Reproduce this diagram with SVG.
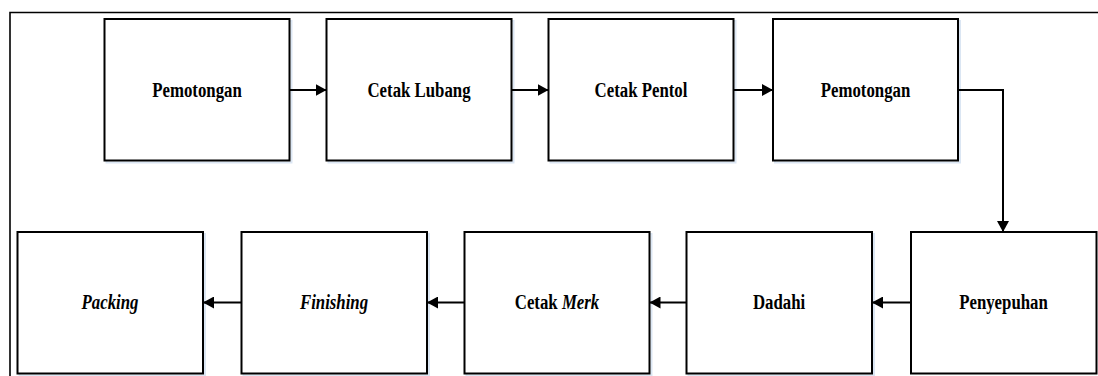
<svg xmlns="http://www.w3.org/2000/svg" width="1098" height="376" viewBox="0 0 1098 376">
  <style>
    .box { fill: #ffffff; stroke: #000000; stroke-width: 2; }
    .shadow { fill: none; stroke: #dbe6f3; stroke-width: 2; }
    .frame { fill: none; stroke: #000000; stroke-width: 1.6; }
    .conn { fill: none; stroke: #000000; stroke-width: 2; marker-end: url(#arrow); }
    .label { font-family: 'Liberation Serif', 'Times New Roman', serif; font-size: 21px; font-weight: bold; text-anchor: middle; fill: #000000; }
    .it { font-style: italic; }
  </style>
  <defs>
    <marker id="arrow" markerUnits="userSpaceOnUse" markerWidth="11" markerHeight="12" refX="11" refY="6" orient="auto">
      <path d="M0,0 L11,6 L0,12 Z" fill="#000000"/>
    </marker>
  </defs>
  <rect width="1098" height="376" fill="#ffffff"/>
  <!-- outer frame (open to the right and bottom) -->
  <path class="frame" d="M10,376 V12.5 H1098"/>

  <g id="n1"><rect class="shadow" x="106.5" y="21" width="185" height="141.5"/><rect class="box" x="104.5" y="19" width="185" height="141.5"/><text class="label" transform="translate(197 97) scale(0.8 1)">Pemotongan</text></g>
  <g id="n2"><rect class="shadow" x="328.5" y="21" width="185" height="141.5"/><rect class="box" x="326.5" y="19" width="185" height="141.5"/><text class="label" transform="translate(419 97) scale(0.8 1)">Cetak Lubang</text></g>
  <g id="n3"><rect class="shadow" x="550.5" y="21" width="185" height="141.5"/><rect class="box" x="548.5" y="19" width="185" height="141.5"/><text class="label" transform="translate(641 97) scale(0.8 1)">Cetak Pentol</text></g>
  <g id="n4"><rect class="shadow" x="775" y="21" width="185" height="141.5"/><rect class="box" x="773" y="19" width="185" height="141.5"/><text class="label" transform="translate(865.5 97) scale(0.8 1)">Pemotongan</text></g>

  <g id="n5"><rect class="box" x="911" y="232" width="185.5" height="141.5"/><text class="label" transform="translate(1003.5 309) scale(0.8 1)">Penyepuhan</text></g>
  <g id="n6"><rect class="shadow" x="688.5" y="234" width="185.5" height="141.5"/><rect class="box" x="686.5" y="232" width="185.5" height="141.5"/><text class="label" transform="translate(779 309) scale(0.8 1)">Dadahi</text></g>
  <g id="n7"><rect class="shadow" x="466.5" y="234" width="185" height="141.5"/><rect class="box" x="464.5" y="232" width="185" height="141.5"/><text class="label" transform="translate(557 309) scale(0.8 1)">Cetak <tspan class="it">Merk</tspan></text></g>
  <g id="n8"><rect class="shadow" x="243.5" y="234" width="185.5" height="141.5"/><rect class="box" x="241.5" y="232" width="185.5" height="141.5"/><text class="label it" transform="translate(334 309) scale(0.8 1)">Finishing</text></g>
  <g id="n9"><rect class="shadow" x="19.5" y="234" width="185.5" height="141.5"/><rect class="box" x="17.5" y="232" width="185.5" height="141.5"/><text class="label it" transform="translate(110 309) scale(0.8 1)">Packing</text></g>

  <g id="connectors">
    <path class="conn" d="M289.5,90 H326.5"/>
    <path class="conn" d="M511.5,90 H548.5"/>
    <path class="conn" d="M733.5,90 H773"/>
    <path class="conn" d="M958,90 H1003 V232"/>
    <path class="conn" d="M911,302.5 H872"/>
    <path class="conn" d="M686.5,302.5 H649.5"/>
    <path class="conn" d="M464.5,302.5 H427"/>
    <path class="conn" d="M241.5,302.5 H203"/>
  </g>
</svg>
